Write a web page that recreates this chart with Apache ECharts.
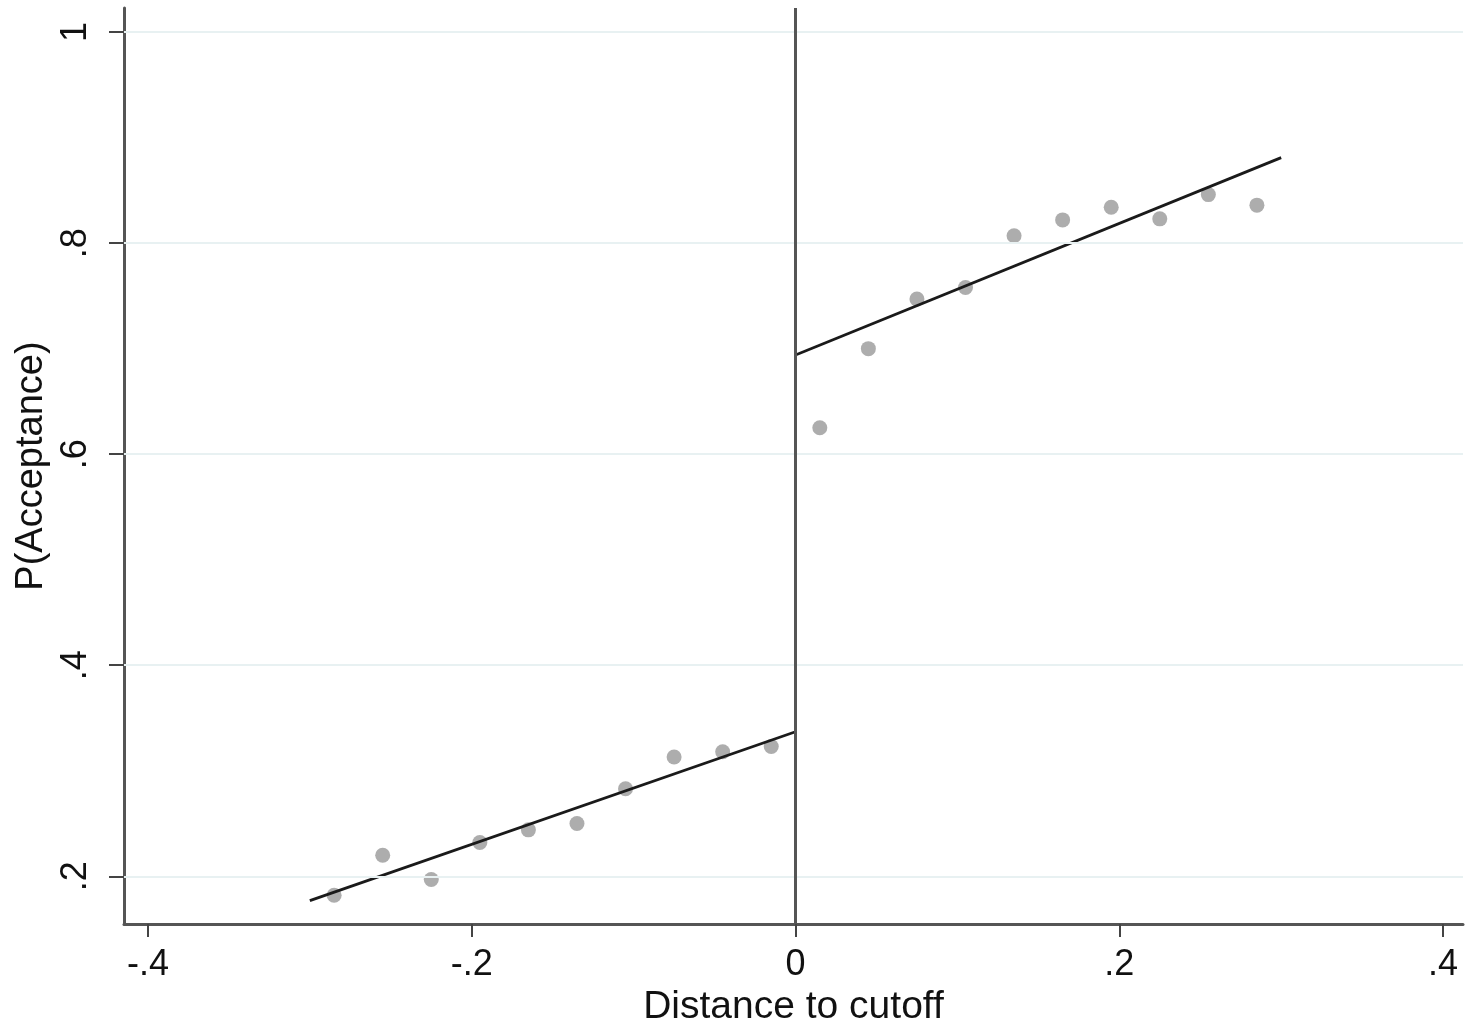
<!DOCTYPE html>
<html>
<head>
<meta charset="utf-8">
<script src="https://cdn.jsdelivr.net/npm/echarts@6/dist/echarts.min.js"></script>
<style>
html,body{margin:0;padding:0;background:#fff;}
#c{width:1465px;height:1032px;}
</style>
</head>
<body>
<div id="c"></div>
<script>
// Binned scatter: left of cutoff
const leftBinX = [-0.285, -0.255, -0.225, -0.195, -0.165, -0.135, -0.105, -0.075, -0.045, -0.015];
const leftBinY = [0.182, 0.220, 0.197, 0.232, 0.244, 0.250, 0.283, 0.313, 0.318, 0.323];
// Binned scatter: right of cutoff
const rightBinX = [0.015, 0.045, 0.075, 0.105, 0.135, 0.165, 0.195, 0.225, 0.255, 0.285];
const rightBinY = [0.625, 0.700, 0.747, 0.758, 0.807, 0.822, 0.834, 0.823, 0.846, 0.836];
// Linear fit lines (endpoints)
const leftFitX = [-0.3, 0];
const leftFitY = [0.177, 0.337];
const rightFitX = [0, 0.3];
const rightFitY = [0.694, 0.881];
// Ticks
const xTicks = [-0.4, -0.2, 0, 0.2, 0.4];
const yTicks = [0.2, 0.4, 0.6, 0.8, 1];
const cutoff = 0;
const xTitle = 'Distance to cutoff';
const yTitle = 'P(Acceptance)';

const fmt = v => {
  const r = Math.round(v * 10) / 10;
  if (r === 0) return '0';
  if (r === 1) return '1';
  return String(r).replace('0.', '.');
};
const zip = (a, b) => a.map((v, i) => [v, b[i]]);
const FONT = '"Liberation Sans", Arial, sans-serif';

const chart = echarts.init(document.getElementById('c'), null, {renderer: 'canvas'});
chart.setOption({
  animation: false,
  backgroundColor: '#fff',
  grid: {left: 124, right: 2, top: 8, bottom: 98, containLabel: false},
  xAxis: {
    type: 'value',
    min: -0.4148, max: 0.4123,
    name: xTitle, nameLocation: 'middle', nameGap: 58,
    nameTextStyle: {fontFamily: FONT, fontSize: 39, color: '#111'},
    axisLine: {show: true, onZero: false, lineStyle: {color: '#555', width: 3}},
    axisTick: {show: true, length: 13, customValues: xTicks, lineStyle: {color: '#444', width: 2}},
    axisLabel: {customValues: xTicks, formatter: fmt, margin: 23, fontFamily: FONT, fontSize: 36, color: '#111'},
    splitLine: {show: false}
  },
  yAxis: {
    type: 'value',
    min: 0.1547, max: 1.0228,
    name: yTitle, nameLocation: 'middle', nameGap: 70, nameRotate: 90,
    nameTextStyle: {fontFamily: FONT, fontSize: 38, color: '#111'},
    axisLine: {show: true, onZero: false, lineStyle: {color: '#555', width: 3}},
    axisTick: {show: true, length: 15, customValues: yTicks, lineStyle: {color: '#444', width: 2}},
    axisLabel: {customValues: yTicks, formatter: fmt, rotate: 90, margin: 30, fontFamily: FONT, fontSize: 36, color: '#111'},
    splitLine: {show: false}
  },
  series: [
    {
      type: 'line', data: [], silent: true, z: 1,
      markLine: {
        silent: true, symbol: 'none', label: {show: false},
        lineStyle: {color: '#e8f1f2', width: 2, type: 'solid'},
        data: yTicks.map(v => ({yAxis: v}))
      }
    },
    {
      type: 'line', data: [], silent: true, z: 2,
      markLine: {
        silent: true, symbol: 'none', label: {show: false},
        lineStyle: {color: '#555', width: 3, type: 'solid'},
        data: [{xAxis: cutoff}]
      }
    },
    {
      type: 'scatter', data: zip(leftBinX, leftBinY), symbol: 'circle', symbolSize: 15,
      itemStyle: {color: '#999999'}, z: 3
    },
    {
      type: 'scatter', data: zip(rightBinX, rightBinY), symbol: 'circle', symbolSize: 15,
      itemStyle: {color: '#999999'}, z: 3
    },
    {
      type: 'line', data: zip(leftFitX, leftFitY), symbol: 'none', z: 4,
      lineStyle: {color: '#1a1a1a', width: 2.8}
    },
    {
      type: 'line', data: zip(rightFitX, rightFitY), symbol: 'none', z: 4,
      lineStyle: {color: '#1a1a1a', width: 2.8}
    }
  ]
});
</script>
</body>
</html>
